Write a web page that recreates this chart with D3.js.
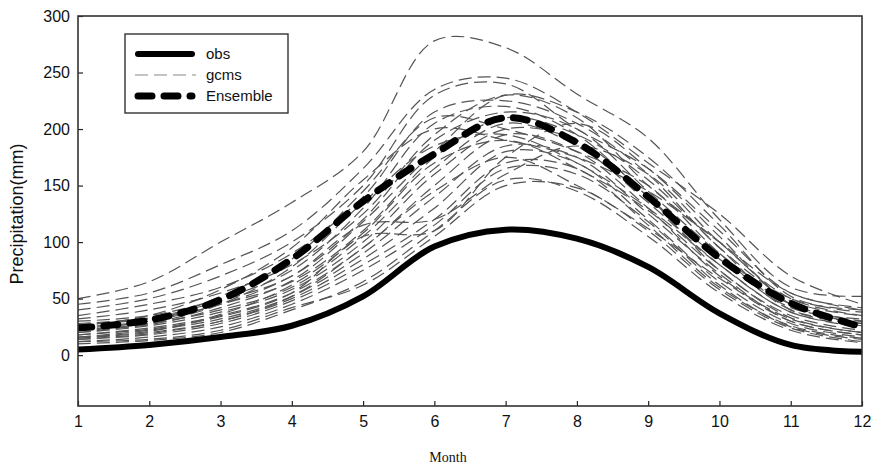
<!DOCTYPE html>
<html>
<head>
<meta charset="utf-8">
<script src="https://cdn.jsdelivr.net/npm/d3@7/dist/d3.min.js"></script>
<style>
  html,body{margin:0;padding:0;background:#fff;}
  svg{display:block;}
  .tick text{font-family:"Liberation Sans",Arial,sans-serif;font-size:16px;fill:#111;}
</style>
</head>
<body>
<svg id="chart" width="871" height="465"></svg>
<script>
// ── DONNÉES (mm/mois) ─────────────────────────────────────────────────────
var MONTHS=[1,2,3,4,5,6,7,8,9,10,11,12];
var Y_TICKS=[0,50,100,150,200,250,300];
var OBS=[5,9,16,26,52,96,111,103,78,37,9,3];
var ENSEMBLE=[24,31,49,85,136,178,210,188,140,86,46,25];
// Une ligne par modèle GCM
var GCM_01=[50,65,100,135,180,278,272,231,192,120,60,52];
var GCM_02=[45,55,80,110,165,235,245,215,170,125,70,45];
var GCM_03=[40,50,70,100,150,230,240,200,165,110,55,42];
var GCM_04=[35,45,60,90,140,215,225,205,160,95,50,40];
var GCM_05=[32,40,55,80,125,195,230,210,150,100,48,35];
var GCM_06=[30,35,50,75,130,205,220,195,140,85,42,32];
var GCM_07=[28,33,48,70,120,190,215,200,145,90,45,30];
var GCM_08=[25,30,45,65,110,175,210,195,155,95,40,28];
var GCM_09=[22,28,40,60,105,165,205,185,135,80,38,25];
var GCM_10=[20,26,38,58,100,160,200,190,140,75,35,22];
var GCM_11=[18,24,35,55,95,150,195,180,130,70,32,20];
var GCM_12=[16,22,32,52,90,140,185,175,125,72,30,18];
var GCM_13=[15,20,30,50,85,130,180,170,120,65,28,16];
var GCM_14=[14,18,28,48,80,120,170,165,115,60,26,15];
var GCM_15=[12,16,25,45,75,115,165,160,118,62,25,14];
var GCM_16=[12,14,22,42,62,105,150,148,110,58,24,12];
var GCM_17=[10,13,20,40,65,110,155,145,105,55,22,11];
var GCM_18=[27,32,45,70,115,120,160,185,160,100,50,35];
var GCM_19=[18,23,34,55,105,110,175,205,165,105,45,28];
var GCM_20=[24,30,52,85,145,210,200,180,150,90,40,30];
var GCM_21=[20,28,45,78,135,185,195,170,130,80,38,26];
var GCM_22=[26,35,58,95,155,200,190,175,145,100,55,40];
var GCM_23=[16,21,36,62,108,170,190,165,128,75,33,20];
var GCM_24=[14,19,30,52,95,145,175,150,112,68,30,18];
var GCM_25=[22,27,42,66,118,180,230,215,175,115,52,38];
var GCMS=[GCM_01,GCM_02,GCM_03,GCM_04,GCM_05,GCM_06,GCM_07,GCM_08,GCM_09,GCM_10,
  GCM_11,GCM_12,GCM_13,GCM_14,GCM_15,GCM_16,GCM_17,GCM_18,GCM_19,GCM_20,
  GCM_21,GCM_22,GCM_23,GCM_24,GCM_25];
var LEGEND=[{k:"obs",label:"obs"},{k:"gcm",label:"gcms"},{k:"ens",label:"Ensemble"}];

// ── STYLES DE TRAIT ───────────────────────────────────────────────────────
var STYLE={
  obs:{stroke:"#000",width:6,dash:null},
  gcm:{stroke:"#555",width:1.2,dash:"13,6"},
  ens:{stroke:"#000",width:7,dash:"14,12"}
};
function applyStyle(sel,k){
  var s=STYLE[k];
  sel.attr("fill","none").attr("stroke",s.stroke).attr("stroke-width",s.width)
    .attr("stroke-dasharray",s.dash).attr("stroke-linecap",k==="gcm"?"butt":"round")
    .attr("stroke-linejoin","round");
}

// ── ÉCHELLES ──────────────────────────────────────────────────────────────
var L=78,R=862,T=16,B=406;
var x=d3.scaleLinear().domain([1,12]).range([L,R]);
var y=d3.scaleLinear().domain([-45,300]).range([B,T]);
var svg=d3.select("#chart");

var line=d3.line()
  .x(function(d,i){return x(MONTHS[i]);})
  .y(function(d){return y(d);})
  .curve(d3.curveCatmullRom.alpha(0.5));

var clip=svg.append("clipPath").attr("id","plot-clip");
clip.append("rect").attr("x",L).attr("y",T).attr("width",R-L).attr("height",B-T);
var plot=svg.append("g").attr("clip-path","url(#plot-clip)");

// GCMs d'abord, puis ensemble, puis observations par-dessus
plot.selectAll("path.gcm").data(GCMS).enter().append("path")
  .attr("class","gcm").attr("d",line).call(applyStyle,"gcm");
plot.append("path").datum(ENSEMBLE).attr("d",line).call(applyStyle,"ens");
plot.append("path").datum(OBS).attr("d",line).call(applyStyle,"obs");

// ── AXES (graduations vers l'intérieur, cadre complet) ───────────────────
var gy=svg.append("g").attr("transform","translate("+L+",0)")
  .call(d3.axisLeft(y).tickValues(Y_TICKS).tickSizeInner(-5).tickSizeOuter(0).tickPadding(8));
var gx=svg.append("g").attr("transform","translate(0,"+B+")")
  .call(d3.axisBottom(x).tickValues(MONTHS).tickSizeInner(-5).tickSizeOuter(0).tickPadding(10));
[gy,gx].forEach(function(g){
  g.select(".domain").remove();
  g.selectAll(".tick line").attr("stroke","#222").attr("stroke-width",1.2);
});
svg.append("rect").attr("x",L).attr("y",T).attr("width",R-L).attr("height",B-T)
  .attr("fill","none").attr("stroke","#333").attr("stroke-width",1.6);

svg.append("text").attr("transform","translate(23,214) rotate(-90)")
  .attr("text-anchor","middle").attr("font-family","Liberation Sans,Arial,sans-serif")
  .attr("font-size",18).attr("fill","#111").text("Precipitation(mm)");
svg.append("text").attr("x",448).attr("y",462).attr("text-anchor","middle")
  .attr("font-family","Liberation Serif,Times New Roman,serif")
  .attr("font-size",14).attr("fill","#111").text("Month");

// ── LÉGENDE ───────────────────────────────────────────────────────────────
var lg=svg.append("g").attr("transform","translate(125,34)");
lg.append("rect").attr("width",163).attr("height",79)
  .attr("fill","#fff").attr("stroke","#333").attr("stroke-width",1.4);
LEGEND.forEach(function(e,i){
  var cy=20+i*21;
  var x0=e.k==="gcm"?10:13,x1=e.k==="gcm"?71:67;
  var p=lg.append("path").attr("d","M"+x0+","+cy+"H"+x1).call(applyStyle,e.k);
  if(e.k==="gcm")p.attr("stroke","#888"); // trait plus clair dans la légende
  lg.append("text").attr("x",81).attr("y",cy+5).attr("font-family","Liberation Sans,Arial,sans-serif")
    .attr("font-size",15).attr("fill","#111").text(e.label);
});
</script>
</body>
</html>
